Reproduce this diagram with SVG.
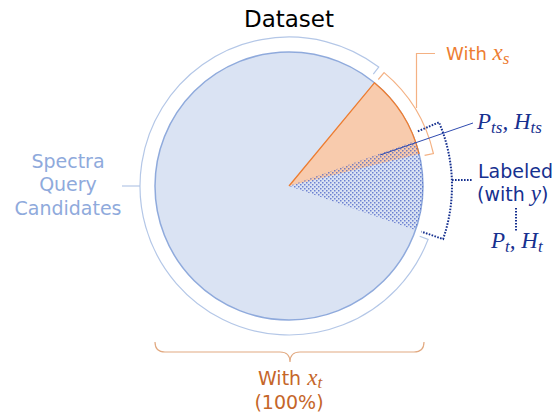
<svg xmlns="http://www.w3.org/2000/svg" width="555" height="413" viewBox="0 0 555 413">
<style>
.lbl{font-family:"DejaVu Sans","Verdana",sans-serif}
.math{font-family:"Liberation Serif","DejaVu Serif",serif;font-style:italic}
.lb{fill:#8faadc}
.or{fill:#ed7d31}
.dor{fill:#c5662a}
.db{fill:#16308f}
.thin{fill:none;stroke-width:1.2}
.dotline{fill:none;stroke:#16308f;stroke-width:2;stroke-dasharray:1.6 1.4}
</style>
<defs>
<pattern id="dots" width="4" height="4" patternUnits="userSpaceOnUse">
<rect x="0" y="0" width="1.5" height="1.5" fill="#3f57c4" fill-opacity="0.7"/>
<rect x="2" y="2" width="1.5" height="1.5" fill="#3f57c4" fill-opacity="0.7"/>
</pattern>
</defs>
<rect width="555" height="413" fill="#ffffff"/>
<text class="lbl" x="289" y="27" text-anchor="middle" font-size="23" fill="#000">Dataset</text>
<g id="pie">
<circle cx="289" cy="186" r="134" fill="#dae3f3" stroke="#8faadc" stroke-width="1.5"/>
</g>
<g id="slice-xs">
<path d="M289,186 L374.4,82.8 A134,134 0 0 1 419.1,154.0 L289,186" fill="#f8cbad" stroke="none"/>
<path d="M289,186 L374.4,82.8 A134,134 0 0 1 419.1,154.0" fill="none" stroke="#ed7d31" stroke-width="1.3"/>
</g>
<g id="slice-labeled">
<path d="M289,186 L415.2,141.0 A134,134 0 0 1 415.5,230.3 Z" fill="url(#dots)"/>
</g>
<g id="connectors">
<path class="thin" stroke="#b4c7e7" d="M373.3,74.2 L378.7,67.0 A149,149 0 1 0 428.1,239.4 L419.7,236.2"/>
<line class="thin" stroke="#b4c7e7" x1="140" y1="186" x2="122" y2="186"/>
<path class="thin" stroke="#f4b183" d="M378.3,79.5 L384.1,72.6 A148,148 0 0 1 433.4,153.5 L424.6,155.4"/>
<path class="thin" stroke="#f4b183" d="M416.5,108 L416.5,53.5 L435,53.5"/>
<path class="dotline" d="M417.9,131.3 L439.0,122.3 A163,163 0 0 1 443.1,239.1 L421.4,231.6"/>
<line class="dotline" x1="452" y1="180" x2="472" y2="180"/>
<line class="dotline" x1="516" y1="208" x2="516" y2="232"/>
<line stroke="#2f4bb0" stroke-width="1" x1="380" y1="155" x2="473" y2="123"/>
<path class="thin" stroke="#e2aa82" d="M155,342 Q155,352 165,352 L280,352 Q290,352 290,362 Q290,352 300,352 L414,352 Q424,352 424,342"/>
</g>
<g id="label-candidates">
<text class="lbl lb" text-anchor="middle" font-size="19"><tspan x="68" y="168">Spectra</tspan><tspan x="68" y="191">Query</tspan><tspan x="68" y="215">Candidates</tspan></text>
</g>
<g id="label-xs">
<text class="lbl or" x="446" y="60" font-size="18">With <tspan class="math" font-size="23">x</tspan><tspan class="math" font-size="17" dy="4">s</tspan></text>
</g>
<g id="label-pts">
<text class="math db" x="477" y="129" font-size="23">P<tspan font-size="17" dy="4">ts</tspan><tspan dy="-4">, H</tspan><tspan font-size="17" dy="4">ts</tspan></text>
</g>
<g id="label-labeled">
<text class="lbl db" font-size="19"><tspan x="478" y="178">Labeled</tspan><tspan x="477" y="201">(with <tspan class="math" font-size="23">y</tspan>)</tspan></text>
</g>
<g id="label-pt">
<text class="math db" x="491" y="248" font-size="23">P<tspan font-size="17" dy="4">t</tspan><tspan dy="-4">, H</tspan><tspan font-size="17" dy="4">t</tspan></text>
</g>
<g id="label-xt">
<text class="lbl dor" x="258" y="385" font-size="19">With <tspan class="math" font-size="23">x</tspan><tspan class="math" font-size="17" dy="3">t</tspan></text>
<text class="lbl dor" x="289" y="409" text-anchor="middle" font-size="19">(100%)</text>
</g>
</svg>
